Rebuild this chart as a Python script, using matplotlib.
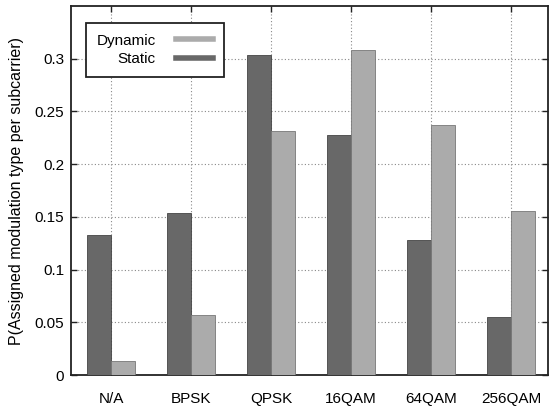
import matplotlib.pyplot as plt
from matplotlib.lines import Line2D
import numpy as np

plt.rcParams['font.family'] = ['Liberation Sans', 'DejaVu Sans']

modulations = ['N/A', 'BPSK', 'QPSK', '16QAM', '64QAM', '256QAM']
static = [0.133, 0.154, 0.304, 0.228, 0.128, 0.055]
dynamic = [0.013, 0.057, 0.231, 0.308, 0.237, 0.156]

dark = '#686868'
light = '#ababab'

x = np.arange(len(modulations))
width = 0.3

fig = plt.figure(figsize=(5.49, 4.07), dpi=100)
ax = fig.add_axes([0.1293, 0.0786, 0.8689, 0.9066])

ax.bar(x - width / 2, static, width, color=dark, edgecolor='#444444',
       linewidth=0.6, zorder=3)
ax.bar(x + width / 2, dynamic, width, color=light, edgecolor='#777777',
       linewidth=0.6, zorder=3)

ax.set_xlim(-0.5, 5.46)
ax.set_ylim(0, 0.35)
ax.set_xticks(x)
ax.set_xticklabels(modulations)
ax.set_yticks([0, 0.05, 0.1, 0.15, 0.2, 0.25, 0.3])
ax.set_yticklabels(['0', '0.05', '0.1', '0.15', '0.2', '0.25', '0.3'])
ax.tick_params(direction='in', top=True, right=True, labelsize=11,
               length=4, width=1, color='#222222')
ax.tick_params(axis='y', pad=5)
ax.tick_params(axis='x', pad=12)
ax.grid(True, linestyle=(0, (1, 2)), color='#888888', linewidth=0.8, zorder=0)
for sp in ax.spines.values():
    sp.set_linewidth(1.3)
    sp.set_color('#222222')

ax.set_ylabel('P(Assigned modulation type per subcarrier)', fontsize=11.5)
ax.yaxis.set_label_coords(-0.099, 0.5)

handles = [Line2D([], [], color=light, linewidth=4),
           Line2D([], [], color=dark, linewidth=4)]
leg = ax.legend(handles, ['Dynamic', 'Static'], loc='upper left',
                bbox_to_anchor=(0.031, 0.954), markerfirst=False,
                fontsize=11, fancybox=False, framealpha=1,
                edgecolor='#222222', handlelength=2.45,
                borderpad=0.7, labelspacing=0.3, handletextpad=1.3,
                borderaxespad=0)
leg.get_frame().set_linewidth(1.3)
leg._legend_box.align = 'right'
for t in leg.get_texts():
    t.set_ha('right')

fig.savefig('out.png', dpi=100)
